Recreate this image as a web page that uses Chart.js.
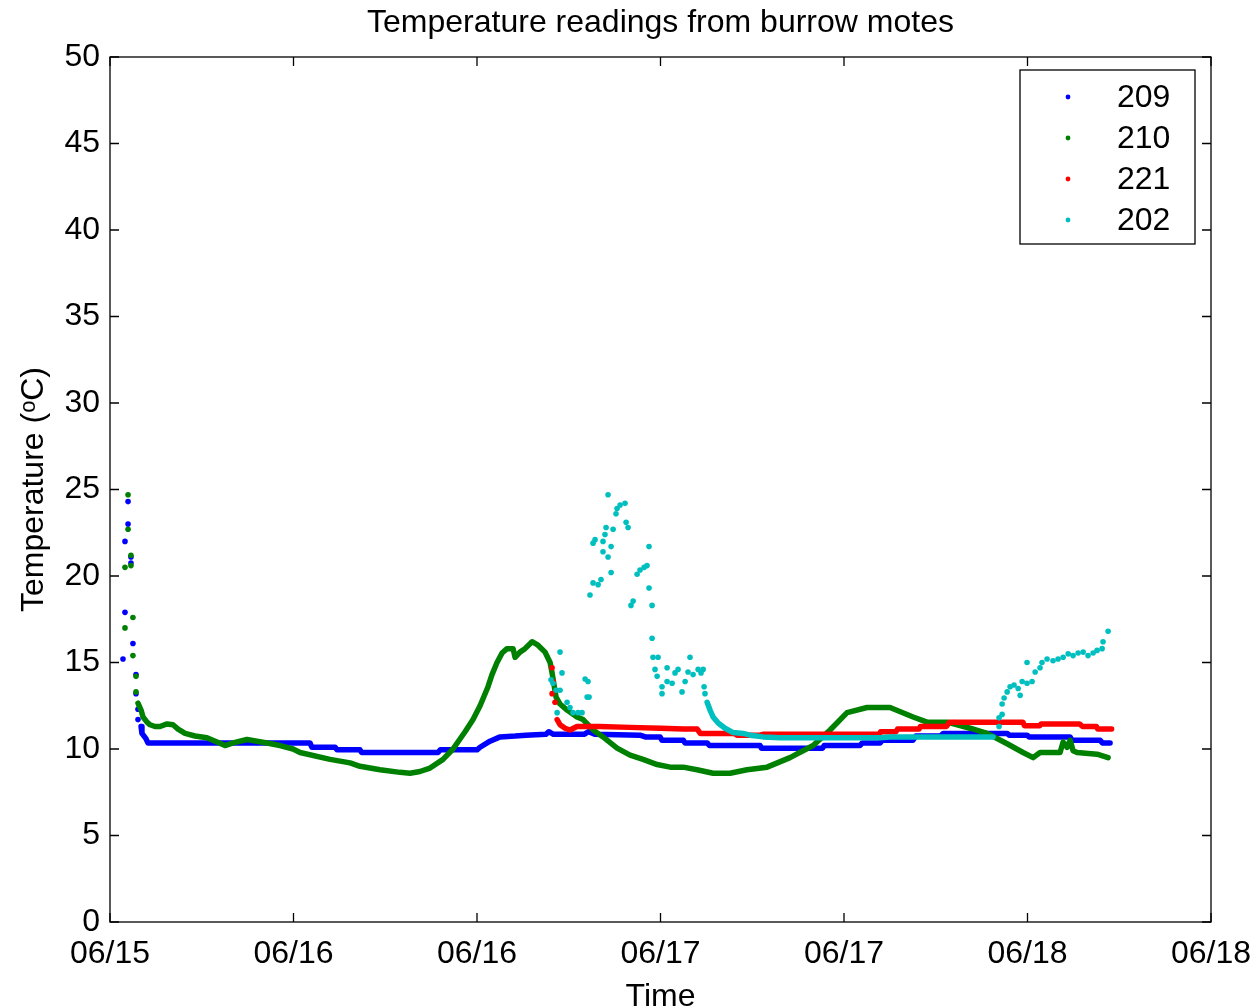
<!DOCTYPE html>
<html>
<head>
<meta charset="utf-8">
<title>Temperature readings from burrow motes</title>
<script src="https://cdn.jsdelivr.net/npm/chart.js@4.4.1/dist/chart.umd.min.js"></script>
<style>
  html, body { margin: 0; padding: 0; background: #fff; }
  #wrap { width: 1259px; height: 1008px; }
</style>
</head>
<body>
<div id="wrap"><canvas id="chart" width="1259" height="1008"></canvas></div>
<script>
// motes, legend order
const moteIds = ["209", "210", "221", "202"];
const moteColors = ["#0000ff", "#008000", "#ff0000", "#00bfbf"];

// x axis = hours since 06/15 00:00, one tick every 12 h
const timeTicks = [0, 12, 24, 36, 48, 60, 72];
const timeTickLabels = ["06/15", "06/16", "06/16", "06/17", "06/17", "06/18", "06/18"];

// mote 209
const spikeHours209 = [0.85, 0.98, 0.98, 1.18, 1.18, 1.37, 1.37, 1.50, 1.70, 1.70, 1.83, 1.83];
const spikeTemps209 = [15.2, 17.9, 22.0, 24.3, 23.0, 21.1, 20.75, 16.1, 14.3, 13.2, 12.3, 11.7];
const hours209 = [2.03, 2.09, 2.35, 2.48, 11.12, 13.08, 13.2, 14.72, 14.85, 16.35, 16.45, 21.45, 21.6, 24.0,
  24.2, 24.85, 25.51, 26.5, 27.2, 28.5, 28.7, 29.0, 31.0, 31.3, 31.7, 34.66, 35.0, 35.97, 36.1, 37.5, 37.6,
  39.05, 39.2, 42.51, 42.6, 46.6, 46.7, 49.05, 49.2, 50.36, 50.5, 52.5, 52.7, 54.3, 54.5, 58.67, 58.8,
  59.97, 60.1, 62.79, 62.9, 64.75, 64.9, 65.4];
const temps209 = [11.3, 10.9, 10.6, 10.35, 10.35, 10.35, 10.1, 10.1, 9.95, 9.95, 9.8, 9.8, 9.95, 9.95,
  10.1, 10.45, 10.7, 10.75, 10.8, 10.85, 11.0, 10.85, 10.85, 11.0, 10.85, 10.8, 10.7, 10.7, 10.5, 10.5, 10.35,
  10.35, 10.2, 10.2, 10.05, 10.05, 10.2, 10.2, 10.35, 10.35, 10.5, 10.5, 10.75, 10.75, 10.9, 10.9, 10.8,
  10.8, 10.7, 10.7, 10.5, 10.5, 10.35, 10.35];

// mote 210
const spikeHours210 = [0.98, 0.98, 1.18, 1.18, 1.37, 1.37, 1.50, 1.50, 1.70, 1.70];
const spikeTemps210 = [20.5, 17.0, 24.7, 22.7, 21.2, 20.6, 17.6, 15.4, 14.2, 13.3];
const hours210 = [1.83, 2.03, 2.16, 2.42, 2.62, 2.94, 3.27, 3.73, 4.12, 4.45, 4.91, 5.56, 6.34, 7.0, 7.52,
  8.05, 8.96, 9.61, 10.27, 11.12, 11.97, 12.43, 14.39, 15.70, 16.35, 17.66, 18.97, 19.62, 20.27, 20.93,
  21.78, 22.43, 23.22, 23.74, 24.2, 24.72, 24.98, 25.31, 25.64, 25.96, 26.36, 26.49, 26.81, 27.14, 27.6,
  27.99, 28.45, 28.78, 28.91, 29.17, 29.43, 29.89, 30.54, 30.94, 31.59, 32.24, 33.16, 34.01, 34.86, 35.78,
  36.63, 37.48, 38.39, 39.44, 40.55, 41.66, 42.97, 44.47, 45.98, 47.09, 48.2, 49.51, 51.01, 52.52, 53.43,
  54.74, 56.25, 57.36, 58.67, 59.71, 60.37, 60.82, 62.13, 62.33, 62.59, 62.79, 62.98, 63.24, 64.55, 65.27];
const temps210 = [12.65, 12.25, 11.85, 11.55, 11.4, 11.3, 11.3, 11.45, 11.4, 11.15, 10.9, 10.75, 10.65, 10.4, 10.2,
  10.35, 10.55, 10.45, 10.35, 10.2, 10.0, 9.8, 9.4, 9.2, 9.0, 8.8, 8.65, 8.6, 8.7, 8.9,
  9.4, 10.0, 11.0, 11.7, 12.5, 13.6, 14.3, 15.0, 15.55, 15.8, 15.8, 15.3, 15.6, 15.8, 16.2,
  16.0, 15.6, 15.0, 14.4, 13.0, 12.6, 12.25, 11.85, 11.7, 11.1, 10.7, 10.05, 9.65, 9.4, 9.1,
  8.95, 8.95, 8.8, 8.6, 8.6, 8.8, 8.95, 9.5, 10.2, 11.1, 12.1, 12.4, 12.4, 11.85, 11.55,
  11.55, 11.2, 10.9, 10.3, 9.8, 9.5, 9.8, 9.8, 10.4, 10.1, 10.5, 9.9, 9.8, 9.7, 9.5];

// mote 221
const spikeHours221 = [28.91, 28.97, 28.91, 29.1];
const spikeTemps221 = [14.7, 13.9, 13.2, 12.7];
const hours221 = [29.24, 29.43, 29.76, 30.08, 30.54, 32.0, 34.0, 36.0, 37.5, 38.4, 38.6, 40.8, 41.0, 42.5,
  42.7, 50.3, 50.4, 51.4, 51.5, 52.9, 53.0, 54.7, 54.9, 59.7, 59.8, 60.8, 60.9, 63.4, 63.6, 64.5, 64.6, 65.5];
const temps221 = [11.7, 11.4, 11.2, 11.1, 11.3, 11.3, 11.25, 11.2, 11.15, 11.15, 10.9, 10.9, 10.8, 10.8,
  10.85, 10.85, 11.0, 11.0, 11.15, 11.15, 11.3, 11.3, 11.55, 11.55, 11.35, 11.35, 11.45, 11.45, 11.3, 11.3, 11.15, 11.15];

// mote 202 (scattered readings + steady part)
const spikeHours202 = [28.84, 28.97, 29.43, 29.56, 29.17, 29.43, 29.24, 29.89, 30.08, 30.28, 30.61, 30.87,
  31.07, 31.26, 31.2, 31.33, 31.39, 31.59, 31.92, 32.11, 31.59, 31.72, 32.24, 32.37, 32.44, 32.24, 32.57,
  32.77, 32.77, 32.9, 32.57, 33.09, 33.16, 33.36, 33.68, 33.75, 33.88, 34.07, 34.21, 34.47, 34.66, 34.93,
  35.12, 35.25, 35.25, 35.45, 35.45, 35.51, 35.84, 35.64, 35.78, 36.1, 36.1, 36.43, 36.43, 36.76, 36.95,
  37.15, 37.41, 37.61, 37.8, 37.93, 38.13, 38.46, 38.79, 38.65, 38.85, 38.91,
  58.14, 58.14, 58.34, 58.34, 58.47, 58.67, 58.86, 59.12, 59.39, 59.52, 59.65, 59.97, 59.97, 60.3, 60.5,
  60.82, 60.95, 61.28, 61.67, 62.0, 62.33, 62.66, 62.98, 63.31, 63.64, 63.96, 64.29, 64.55, 64.88, 64.94, 65.27];
const spikeTemps202 = [14.0, 13.8, 15.6, 14.4, 13.4, 13.4, 12.1, 12.7, 12.4, 12.1, 12.1, 12.1,
  14.05, 13.9, 13.0, 13.0, 18.9, 19.6, 19.5, 19.8, 21.9, 22.1, 22.0, 22.4, 22.8, 21.4, 21.1,
  21.7, 20.2, 22.7, 24.7, 23.6, 23.9, 24.1, 24.2, 23.1, 22.8, 18.3, 18.55, 20.1, 20.35, 20.5,
  20.6, 21.7, 19.3, 18.3, 16.4, 15.3, 15.3, 14.6, 14.2, 13.6, 13.2, 14.7, 13.9, 13.8, 14.4,
  14.6, 13.3, 13.9, 14.45, 15.3, 14.3, 14.6, 14.6, 14.4, 13.6, 13.2,
  11.3, 11.8, 12.0, 12.6, 12.95, 13.3, 13.6, 13.7, 13.5, 13.1, 13.9, 15.0, 13.8, 13.9, 14.45,
  14.7, 15.0, 15.2, 15.1, 15.2, 15.3, 15.5, 15.4, 15.55, 15.6, 15.4, 15.55, 15.7, 15.8, 16.2, 16.8];
const hours202 = [39.05, 39.24, 39.44, 39.77, 40.22, 40.75, 41.4, 41.86, 42.71, 43.82, 50.36, 51.0, 57.75];
const temps202 = [12.7, 12.25, 11.85, 11.5, 11.2, 10.95, 10.9, 10.8, 10.7, 10.65, 10.65, 10.7, 10.7];

const FONT = "'Liberation Sans', Arial, Helvetica, sans-serif";

function toPoints(xs, ys) {
  return xs.map((x, i) => ({ x: x, y: ys[i] }));
}

const tracks = [[hours209, temps209], [hours210, temps210], [hours221, temps221], [hours202, temps202]];
const spikes = [[spikeHours209, spikeTemps209], [spikeHours210, spikeTemps210],
                [spikeHours221, spikeTemps221], [spikeHours202, spikeTemps202]];

const datasets = [];
moteIds.forEach((id, i) => {
  // dense readings look like a thick line
  datasets.push({
    label: id,
    data: toPoints(tracks[i][0], tracks[i][1]),
    showLine: true,
    borderColor: moteColors[i],
    backgroundColor: moteColors[i],
    borderWidth: 5.5,
    borderCapStyle: "round",
    borderJoinStyle: "round",
    pointRadius: 0,
    order: 4 - i
  });
  // sparse readings are single dots
  datasets.push({
    label: id + "-dots",
    data: toPoints(spikes[i][0], spikes[i][1]),
    showLine: false,
    backgroundColor: moteColors[i],
    borderWidth: 0,
    pointRadius: 2.8,
    order: 4 - i
  });
});

// box, inward ticks and legend, matlab style
const matlabBox = {
  id: "matlabBox",
  afterDraw(chart) {
    const { ctx, chartArea: a, scales: { x, y } } = chart;
    ctx.save();
    ctx.strokeStyle = "#000";
    ctx.lineWidth = 1.3;
    ctx.strokeRect(a.left, a.top, a.right - a.left, a.bottom - a.top);
    const len = 9;
    ctx.beginPath();
    x.ticks.forEach(t => {
      const px = x.getPixelForValue(t.value);
      ctx.moveTo(px, a.bottom); ctx.lineTo(px, a.bottom - len);
      ctx.moveTo(px, a.top); ctx.lineTo(px, a.top + len);
    });
    y.ticks.forEach(t => {
      const py = y.getPixelForValue(t.value);
      ctx.moveTo(a.left, py); ctx.lineTo(a.left + len, py);
      ctx.moveTo(a.right, py); ctx.lineTo(a.right - len, py);
    });
    ctx.stroke();

    // legend box
    const bx = a.right - 191, by = a.top + 13, bw = 175, bh = 174;
    ctx.fillStyle = "#fff";
    ctx.fillRect(bx, by, bw, bh);
    ctx.strokeRect(bx, by, bw, bh);
    ctx.font = "32px " + FONT;
    ctx.textBaseline = "middle";
    ctx.textAlign = "left";
    moteIds.forEach((id, i) => {
      const ry = by + 28 + i * 41;
      ctx.fillStyle = moteColors[i];
      ctx.beginPath();
      ctx.arc(bx + 48, ry - 1, 2.4, 0, Math.PI * 2);
      ctx.fill();
      ctx.fillStyle = "#000";
      ctx.fillText(id, bx + 97, ry);
    });
    ctx.restore();
  }
};

new Chart(document.getElementById("chart"), {
  type: "scatter",
  data: { datasets: datasets },
  plugins: [matlabBox],
  options: {
    responsive: false,
    animation: false,
    layout: { padding: { left: 0, right: 48, top: 0, bottom: 0 } },
    plugins: {
      legend: { display: false },
      tooltip: { enabled: false },
      title: {
        display: true,
        fullSize: false,
        text: "Temperature readings from burrow motes",
        color: "#000",
        font: { family: FONT, size: 32, weight: "normal", lineHeight: 1.2 },
        padding: { top: 3.5, bottom: 15.1 }
      }
    },
    scales: {
      x: {
        type: "linear",
        min: 0,
        max: 72,
        afterBuildTicks: s => { s.ticks = timeTicks.map(v => ({ value: v })); },
        afterFit: s => { s.height = 86; s.paddingLeft = 0; s.paddingRight = 0; },
        ticks: {
          callback: v => timeTickLabels[timeTicks.indexOf(v)],
          color: "#000",
          font: { family: FONT, size: 32 },
          padding: 13,
          maxRotation: 0,
          autoSkip: false
        },
        grid: { display: false, drawTicks: false },
        border: { display: false },
        title: {
          display: true,
          text: "Time",
          color: "#000",
          font: { family: FONT, size: 32, lineHeight: 0.8 },
          padding: { top: 0, bottom: -2 }
        }
      },
      y: {
        min: 0,
        max: 50,
        afterFit: s => { s.width = 110; },
        ticks: {
          stepSize: 5,
          color: "#000",
          font: { family: FONT, size: 32 },
          padding: 10
        },
        grid: { display: false, drawTicks: false },
        border: { display: false },
        title: {
          display: true,
          text: "Temperature (ᵒC)",
          color: "#000",
          font: { family: FONT, size: 32, lineHeight: 1 },
          padding: { top: 18, bottom: 0 }
        }
      }
    }
  }
});
</script>
</body>
</html>
